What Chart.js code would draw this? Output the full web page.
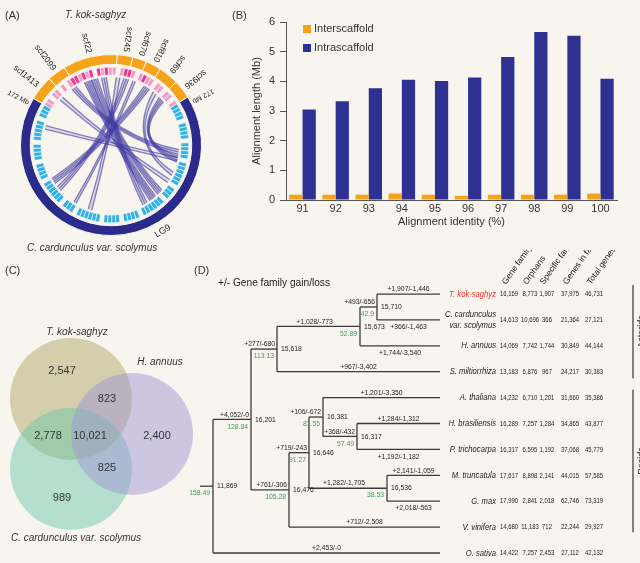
<!DOCTYPE html>
<html>
<head>
<meta charset="utf-8">
<script src="https://cdn.jsdelivr.net/npm/chart.js@4.4.1/dist/chart.umd.min.js"></script>
<style>
  html, body { margin: 0; padding: 0; background: #f8f5ef; }
  body { width: 640px; height: 563px; position: relative; overflow: hidden; font-family: "Liberation Sans", Arial, sans-serif; color: #333; }
  canvas { position: absolute; }
  .tag { position: absolute; font-size: 11px; color: #333; }
  .sp { position: absolute; font-size: 10px; font-style: italic; color: #333; white-space: nowrap; }
</style>
</head>
<body>
<canvas id="circos" width="232" height="262" style="left:0;top:0"></canvas>
<canvas id="bars" width="420" height="232" style="left:220px;top:0"></canvas>
<canvas id="venn" width="200" height="301" style="left:0;top:262px"></canvas>
<canvas id="tree" width="455" height="313" style="left:185px;top:250px"></canvas>

<div class="tag" style="left:5px;top:9px">(A)</div>
<div class="tag" style="left:232px;top:9px">(B)</div>
<div class="tag" style="left:5px;top:264px">(C)</div>
<div class="tag" style="left:194px;top:264px">(D)</div>
<div class="sp" style="left:65px;top:9px">T. kok-saghyz</div>
<div class="sp" style="left:27px;top:242px">C. cardunculus var. scolymus</div>

<script>
Chart.defaults.font.family = '"Liberation Sans", Arial, sans-serif';
Chart.defaults.color = '#333';
const FONT = '"Liberation Sans", Arial, sans-serif';

// ---------- (B) alignment length ----------
const identity = ['91', '92', '93', '94', '95', '96', '97', '98', '99', '100'];
const interscaffold = [0.18, 0.18, 0.18, 0.22, 0.18, 0.14, 0.18, 0.18, 0.18, 0.22];
const intrascaffold = [3.05, 3.33, 3.77, 4.05, 4.01, 4.13, 4.82, 5.66, 5.54, 4.09];

// ---------- (A) circos ----------
const tkScaffolds = ['scf1413', 'scf2099', 'scf22', 'scf245', 'scf670', 'scf810', 'scf69', 'scf936'];
const tkSpan = [16, 12, 35, 10, 9, 10, 13, 12];
const lg9Span = 243;
// gene marks along the ring, one char per cell (0 none, 1 light, 2 strong)
const pinkMarks = '110110101221212021211012210121101101101';
const cyanMarks = '11110111101111011111101110111111011110111101111110111011111101111011110111110111';
// links: [position on T. kok-saghyz, position on LG9, width]
const links = [
  [39, 201, 6], [45, 193, 5], [53, 209, 4], [65, 257, 3], [72, 289, 4],
  [26, 155, 4], [-16, 161, 3], [91, 297, 5], [107, 161, 5], [12, 181, 3],
  [79, 271, 2], [99, 174, 3]
];

// ---------- (C) venn ----------
const vennSets = ['T. kok-saghyz', 'H. annuus', 'C. cardunculus var. scolymus'];
const vennCounts = ['2,547', '823', '2,778', '10,021', '2,400', '825', '989'];

// ---------- (D) tree ----------
const taxa = ['T. kok-saghyz', 'C. cardunculus var. scolymus', 'H. annuus', 'S. miltiorrhiza', 'A. thaliana',
  'H. brasiliensis', 'P. trichocarpa', 'M. truncatula', 'G. max', 'V. vinifera', 'O. sativa'];
const geneFamily = [16169, 14613, 14069, 13183, 14232, 16289, 16317, 17617, 17990, 14680, 14422];
const orphans = [8773, 10696, 7742, 6876, 6710, 7257, 6595, 8898, 2841, 11183, 7257];
const specificFamily = [1907, 366, 1744, 967, 1201, 1284, 1192, 2141, 2018, 712, 2453];
const genesInFamily = [37975, 21364, 30849, 24217, 31660, 34865, 37068, 44015, 62746, 22244, 27112];
const totalGenes = [46731, 27121, 44144, 30383, 35386, 43877, 45779, 57585, 73319, 29927, 42132];
const leafGainLoss = ['+1,907/-1,446', '+366/-1,463', '+1,744/-3,540', '+967/-3,402', '+1,201/-3,350',
  '+1,284/-1,312', '+1,192/-1,182', '+2,141/-1,059', '+2,018/-563', '+712/-2,508', '+2,453/-0'];
const leafBelow = [false, true, true, false, false, false, true, false, true, false, false];
const tableHeaders = ['Gene family', 'Orphans', 'Specific family', 'Genes in family', 'Total genes'];
const leafDepth = 227;
const stemDepth = -13;
const tree = { depth: 0, count: '11,869', gainLoss: '', age: '158.49', kids: [
  { depth: 38, count: '16,201', gainLoss: '+4,052/-0', age: '128.84', kids: [
    { depth: 64, count: '15,618', gainLoss: '+277/-680', age: '113.13', kids: [
      { depth: 147, count: '15,673', gainLoss: '+1,028/-773', age: '52.89', kids: [
        { depth: 164, count: '15,710', gainLoss: '+493/-656', age: '42.9', kids: [0, 1] }, 2] },
      3] },
    { depth: 76, count: '16,476', gainLoss: '+761/-306', age: '105.28', kids: [
      { depth: 96, count: '16,646', gainLoss: '+719/-243', age: '91.27', kids: [
        { depth: 110, count: '16,381', gainLoss: '+106/-672', age: '81.55', kids: [4,
          { depth: 144, count: '16,317', gainLoss: '+368/-432', age: '57.49', kids: [5, 6] }] },
        { depth: 174, count: '16,536', gainLoss: '+1,282/-1,705', age: '38.53', kids: [7, 8] }] },
      9] }] },
  10] };

function sq(ctx, text, x, y, k) {
  ctx.fillText(text, x, y, ctx.measureText(text).width * k);
}

// ================= (B) =================
const legendInside = {
  id: 'legendInside',
  afterDraw(chart) {
    const { ctx, chartArea } = chart;
    ctx.save();
    ctx.font = '11px ' + FONT;
    ctx.textBaseline = 'middle';
    chart.data.datasets.forEach((ds, i) => {
      const y = chartArea.top + 7 + i * 19;
      ctx.fillStyle = ds.backgroundColor;
      ctx.fillRect(chartArea.left + 17, y - 4, 8, 8);
      ctx.fillStyle = '#333';
      ctx.fillText(ds.label, chartArea.left + 28, y);
    });
    ctx.restore();
  }
};

new Chart(document.getElementById('bars'), {
  type: 'bar',
  data: {
    labels: identity,
    datasets: [
      { label: 'Interscaffold', data: interscaffold, backgroundColor: '#f7a21b', categoryPercentage: 0.8, barPercentage: 1 },
      { label: 'Intrascaffold', data: intrascaffold, backgroundColor: '#2e3192', categoryPercentage: 0.8, barPercentage: 1 }
    ]
  },
  options: {
    responsive: false, animation: false, devicePixelRatio: 1,
    layout: { padding: { top: 22, right: 23, left: 30, bottom: 0 } },
    plugins: { legend: { display: false }, tooltip: { enabled: false } },
    scales: {
      x: {
        grid: { display: false, drawTicks: false },
        border: { color: '#555' },
        ticks: { color: '#333', font: { size: 11 }, padding: 2 },
        title: { display: true, text: 'Alignment identity (%)', color: '#333', font: { size: 11 }, padding: { top: 0, bottom: 3 } },
        afterFit: s => { s.height = 32; }
      },
      y: {
        min: 0, max: 6,
        ticks: { stepSize: 1, color: '#333', font: { size: 11 }, padding: 5 },
        grid: { drawOnChartArea: false, tickLength: 6, color: '#555' },
        border: { color: '#555' },
        title: { display: true, text: 'Alignment length (Mb)', color: '#333', font: { size: 11 }, padding: 0 },
        afterFit: s => { s.width = 36; }
      }
    }
  },
  plugins: [legendInside]
});

// ================= (A) =================
const cellColors = (marks, map) => marks.split('').map(c => map[c]);
const pinkCells = pinkMarks.split('').map(() => tkSpan.reduce((a, b) => a + b, 0) / pinkMarks.length);
const cyanCells = cyanMarks.split('').map(() => lg9Span / cyanMarks.length);

const circosText = {
  id: 'circosText',
  afterDatasetsDraw(chart) {
    const { ctx } = chart;
    const outer = chart.getDatasetMeta(0).data;
    const marks = chart.getDatasetMeta(2).data;
    const cx = outer[0].x, cy = outer[0].y;
    const start = outer[0].startAngle;
    const r = marks[0].innerRadius - 2;
    const ang = u => start + u * Math.PI / 180;
    const pt = a => [cx + r * Math.cos(a), cy + r * Math.sin(a)];
    // bezier control pulled from the centre towards the chord midpoint
    const ctrl = (p, q) => [cx + 0.3 * ((p[0] + q[0]) / 2 - cx), cy + 0.3 * ((p[1] + q[1]) / 2 - cy)];

    ctx.save();
    links.forEach(([a, b, w]) => {
      const a1 = ang(a - w / 2), a2 = ang(a + w / 2);
      const b1 = ang(b - w / 2), b2 = ang(b + w / 2);
      ctx.beginPath();
      ctx.moveTo(...pt(a1));
      ctx.arc(cx, cy, r, a1, a2);
      ctx.quadraticCurveTo(...ctrl(pt(a2), pt(b1)), ...pt(b1));
      ctx.arc(cx, cy, r, b1, b2);
      ctx.quadraticCurveTo(...ctrl(pt(b2), pt(a1)), ...pt(a1));
      ctx.fillStyle = 'rgba(90,80,175,0.16)';
      ctx.fill();
      const n = Math.max(2, Math.round(w / 1.3));
      for (let k = 0; k < n; k++) {
        const t = -w / 2 + k * w / (n - 1);
        const p = pt(ang(a + t)), q = pt(ang(b - t));
        ctx.beginPath();
        ctx.moveTo(...p);
        ctx.quadraticCurveTo(...ctrl(p, q), ...q);
        ctx.strokeStyle = 'rgba(62,54,160,0.6)';
        ctx.lineWidth = 1.4;
        ctx.stroke();
      }
    });
    ctx.restore();

    // labels reading inward
    const ro = outer[0].outerRadius + 4;
    const radial = (text, a, rr, size) => {
      ctx.save();
      ctx.translate(cx + rr * Math.cos(a), cy + rr * Math.sin(a));
      ctx.rotate(a + Math.PI);
      ctx.font = size + 'px ' + FONT;
      ctx.fillStyle = '#222';
      ctx.textAlign = 'right';
      ctx.textBaseline = 'middle';
      ctx.fillText(text, 0, 0);
      ctx.restore();
    };
    tkScaffolds.forEach((name, i) => {
      const arc = outer[i];
      radial(name, (arc.startAngle + arc.endAngle) / 2, ro, 8.5);
    });
    radial('172 Mb', ang(-4), ro - 2, 7);
    radial('172 Mb', ang(121), ro - 2, 7);
    // LG9 along the ring
    const aL = ang(208);
    ctx.save();
    ctx.translate(cx + (ro + 6) * Math.cos(aL), cy + (ro + 6) * Math.sin(aL));
    ctx.rotate(aL - Math.PI / 2);
    ctx.font = '9px ' + FONT;
    ctx.fillStyle = '#222';
    ctx.textAlign = 'center';
    ctx.textBaseline = 'middle';
    ctx.fillText('LG9', 0, 0);
    ctx.restore();
  }
};

new Chart(document.getElementById('circos'), {
  type: 'doughnut',
  data: {
    datasets: [
      {
        data: [...tkSpan, lg9Span],
        backgroundColor: [...tkSpan.map(() => '#f7a21b'), '#2b2b8c'],
        borderColor: '#f8f5ef', borderWidth: 1, weight: 10
      },
      { data: [360], backgroundColor: 'rgba(0,0,0,0)', borderWidth: 0, weight: 3 },
      {
        data: [...pinkCells, ...cyanCells],
        backgroundColor: [
          ...cellColors(pinkMarks, { '0': 'rgba(0,0,0,0)', '1': '#f49cc8', '2': '#e8388f' }),
          ...cellColors(cyanMarks, { '0': 'rgba(0,0,0,0)', '1': '#2fb2e6' })
        ],
        borderColor: '#f8f5ef', borderWidth: 0.7, weight: 8
      }
    ]
  },
  options: {
    responsive: false, animation: false, devicePixelRatio: 1,
    rotation: -59, cutout: 70,
    layout: { padding: { left: 20, right: 30, top: 54, bottom: 26 } },
    plugins: { legend: { display: false }, tooltip: { enabled: false } }
  },
  plugins: [circosText]
});

// ================= (C) =================
const vennCircles = [{ x: 71, y: 137, r: 61 }, { x: 71, y: 207, r: 61 }, { x: 132, y: 172, r: 61 }];
const vennCountAt = [[62, 109], [107, 137], [48, 174], [90, 174], [157, 174], [107, 206], [62, 236]];
const vennNameAt = [[77, 70], [160, 100], [76, 276]];

const vennText = {
  id: 'vennText',
  afterDatasetsDraw(chart) {
    const { ctx } = chart;
    const xs = chart.scales.x, ys = chart.scales.y;
    ctx.save();
    ctx.textBaseline = 'middle';
    ctx.textAlign = 'center';
    ctx.fillStyle = '#333';
    ctx.font = '11px ' + FONT;
    vennCounts.forEach((c, i) => ctx.fillText(c, xs.getPixelForValue(vennCountAt[i][0]), ys.getPixelForValue(vennCountAt[i][1])));
    ctx.font = 'italic 10px ' + FONT;
    vennSets.forEach((s, i) => ctx.fillText(s, xs.getPixelForValue(vennNameAt[i][0]), ys.getPixelForValue(vennNameAt[i][1])));
    ctx.restore();
  }
};

new Chart(document.getElementById('venn'), {
  type: 'bubble',
  data: {
    datasets: [{
      data: vennCircles,
      backgroundColor: ['rgba(170,160,92,0.45)', 'rgba(98,198,168,0.45)', 'rgba(160,152,210,0.5)'],
      borderWidth: 0,
      clip: false
    }]
  },
  options: {
    responsive: false, animation: false, devicePixelRatio: 1,
    layout: { padding: 0, autoPadding: false },
    plugins: { legend: { display: false }, tooltip: { enabled: false } },
    scales: {
      x: { type: 'linear', display: false, min: 0, max: 200, bounds: 'data' },
      y: { type: 'linear', display: false, min: 0, max: 301, reverse: true, bounds: 'data' }
    }
  },
  plugins: [vennText]
});

// ================= (D) =================
const segs = [];
const internals = [];
const leafParent = [];
function place(node, parentDepth) {
  if (typeof node === 'number') {
    segs.push([[parentDepth, node], [leafDepth, node]]);
    leafParent[node] = parentDepth;
    return node;
  }
  const ys = node.kids.map(k => place(k, node.depth));
  const y = (ys[0] + ys[ys.length - 1]) / 2;
  segs.push([[node.depth, ys[0]], [node.depth, ys[ys.length - 1]]]);
  segs.push([[parentDepth, y], [node.depth, y]]);
  node.y = y;
  node.parentDepth = parentDepth;
  internals.push(node);
  return y;
}
place(tree, stemDepth);

const nameEdge = 283;
const colPos = [296, 317, 334, 357, 381];

const treeText = {
  id: 'treeText',
  afterDatasetsDraw(chart) {
    const { ctx } = chart;
    const px = v => chart.scales.x.getPixelForValue(v);
    const py = v => chart.scales.y.getPixelForValue(v);
    const cols = [geneFamily, orphans, specificFamily, genesInFamily, totalGenes];
    ctx.save();
    ctx.textBaseline = 'middle';

    ctx.font = '11px ' + FONT;
    ctx.fillStyle = '#222';
    ctx.textAlign = 'left';
    ctx.fillText('+/- Gene family gain/loss', 33, 33, 112);

    taxa.forEach((name, i) => {
      const y = py(i);
      ctx.font = 'italic 9px ' + FONT;
      ctx.fillStyle = i === 0 ? '#e8332a' : '#222';
      ctx.textAlign = 'right';
      if (name.includes(' var. ')) {
        const [a, b] = name.split(' var. ');
        sq(ctx, a, px(nameEdge), y - 5, 0.85);
        sq(ctx, 'var. ' + b, px(nameEdge), y + 6, 0.85);
      } else {
        sq(ctx, name, px(nameEdge), y, 0.85);
      }
      ctx.fillStyle = '#222';
      ctx.font = '8px ' + FONT;
      ctx.textAlign = 'center';
      cols.forEach((col, j) => sq(ctx, col[i].toLocaleString('en-US'), px(colPos[j]), y, 0.74));
      const mid = (px(leafParent[i]) + px(leafDepth)) / 2;
      sq(ctx, leafGainLoss[i], mid, leafBelow[i] ? y + 7 : y - 5, 0.85);
    });

    internals.forEach(n => {
      const x = px(n.depth), y = py(n.y), x0 = px(n.parentDepth);
      ctx.fillStyle = '#222';
      ctx.font = '8px ' + FONT;
      ctx.textAlign = 'left';
      sq(ctx, n.count, x + 4, y, 0.85);
      if (n.gainLoss) {
        if (x - x0 > 45) { ctx.textAlign = 'center'; sq(ctx, n.gainLoss, (x + x0) / 2 - 4, y - 5, 0.85); }
        else { ctx.textAlign = 'right'; sq(ctx, n.gainLoss, x - 2, y - 5, 0.85); }
      }
      ctx.fillStyle = '#3d9a5b';
      ctx.textAlign = 'right';
      sq(ctx, n.age, x - 3, y + 7, 0.85);
    });

    // column headers
    ctx.fillStyle = '#222';
    ctx.font = '8.5px ' + FONT;
    ctx.textAlign = 'left';
    tableHeaders.forEach((h, j) => {
      ctx.save();
      ctx.translate(px(colPos[j]) - 5, py(-0.4));
      ctx.rotate(-55 * Math.PI / 180);
      ctx.fillText(h, 0, 0);
      ctx.restore();
    });

    // clade brackets
    ctx.strokeStyle = '#333';
    ctx.lineWidth = 1.2;
    [[-0.35, 3.25, 'Asterids'], [3.7, 9.2, 'Rosids']].forEach(([a, b, t]) => {
      ctx.beginPath();
      ctx.moveTo(448, py(a));
      ctx.lineTo(448, py(b));
      ctx.stroke();
      ctx.save();
      ctx.translate(457, (py(a) + py(b)) / 2);
      ctx.rotate(-Math.PI / 2);
      ctx.textAlign = 'center';
      ctx.font = '9px ' + FONT;
      ctx.fillText(t, 0, 0);
      ctx.restore();
    });
    ctx.restore();
  }
};

new Chart(document.getElementById('tree'), {
  type: 'scatter',
  data: {
    datasets: segs.map(s => ({
      data: s.map(([x, y]) => ({ x, y })),
      showLine: true, borderColor: '#3b3b3b', borderWidth: 1.3, pointRadius: 0
    }))
  },
  options: {
    responsive: false, animation: false, devicePixelRatio: 1,
    layout: { padding: 0 },
    plugins: { legend: { display: false }, tooltip: { enabled: false } },
    scales: {
      x: { type: 'linear', display: false, min: -28, max: 427, bounds: 'data' },
      y: { type: 'linear', display: false, min: -1.70, max: 10.386, reverse: true, bounds: 'data' }
    }
  },
  plugins: [treeText]
});
</script>
</body>
</html>
